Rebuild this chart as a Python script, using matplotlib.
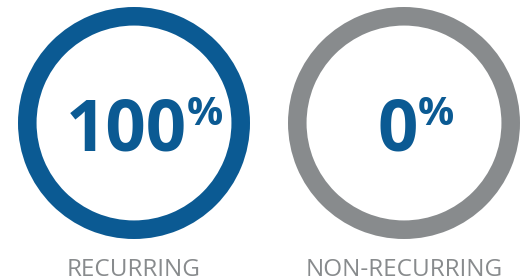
import matplotlib.pyplot as plt

# Datos del gráfico
categorias = ["RECURRING", "NON-RECURRING"]
porcentajes = [100, 0]
colores_anillo = ["#0b5a93", "#888b8d"]

AZUL = "#0b5a93"
GRIS = "#888b8d"
FUENTE = ["Open Sans", "DejaVu Sans"]

fig = plt.figure(figsize=(5.27, 2.8), dpi=100)
W, H = 527, 280

# Centros de los anillos en píxeles (x, y desde arriba) y radio exterior
centros = [(134, 123), (404, 123)]
radio = 116

for (cx, cy), cat, pct, color_base in zip(centros, categorias, porcentajes, colores_anillo):
    ax = fig.add_axes([(cx - radio) / W, (H - cy - radio) / H, 2 * radio / W, 2 * radio / H])
    valores = [pct, 100 - pct]
    ax.pie(valores, colors=[AZUL, color_base], radius=1, startangle=90,
           counterclock=False, wedgeprops=dict(width=0.16, edgecolor="none"))
    ax.set_xlim(-1, 1)
    ax.set_ylim(-1, 1)
    ax.set_aspect("equal")
    ax.axis("off")

    # Número grande y signo de porcentaje como superíndice
    texto = f"{pct}"
    x_der = 0.12 + 0.17 * (len(texto) - 1)
    ax.text(x_der, -0.235, texto, ha="right", va="baseline", fontsize=51,
            fontweight="bold", color=AZUL, family=FUENTE)
    ax.text(x_der - 0.005, -0.02, "%", ha="left", va="baseline", fontsize=29,
            fontweight="bold", color=AZUL, family=FUENTE)

    # Etiqueta inferior
    ax.text(0, -1.315, cat, ha="center", va="baseline", fontsize=17.5,
            color=GRIS, family=FUENTE)

fig.savefig("out.png", dpi=100, facecolor="white")
